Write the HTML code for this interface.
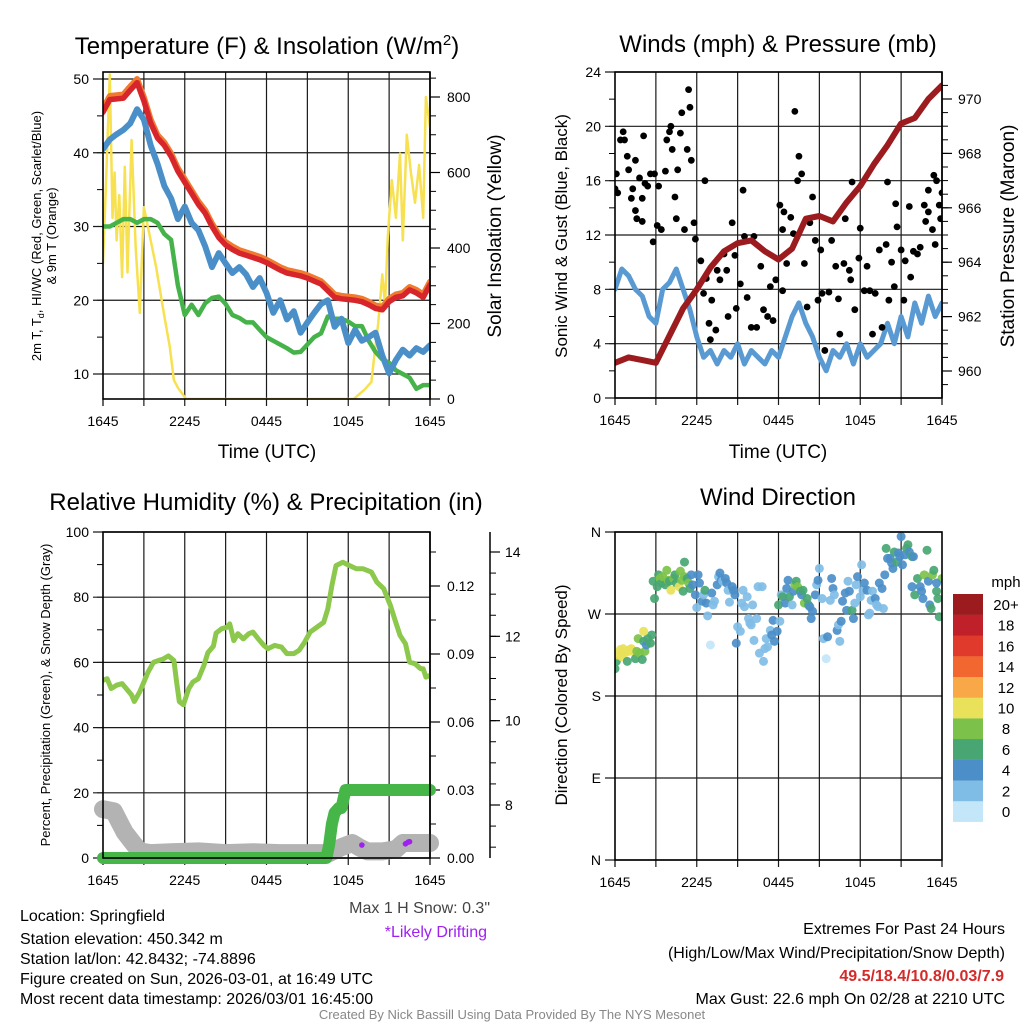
<!DOCTYPE html>
<html><head><meta charset="utf-8"><title>Station Meteogram</title>
<style>
html,body{margin:0;padding:0;background:#fff;}
svg{display:block;font-family:"Liberation Sans",Arial,sans-serif;}
</style></head>
<body>
<svg id="chart" xmlns="http://www.w3.org/2000/svg" width="1024" height="1024" viewBox="0 0 1024 1024">
<rect x="0" y="0" width="1024" height="1024" fill="#fff"/>
<text x="267" y="54" font-size="24" text-anchor="middle">Temperature (F) &amp; Insolation (W/m<tspan dy="-9" font-size="15">2</tspan><tspan dy="9">)</tspan></text>
<text x="778" y="52" font-size="24" text-anchor="middle">Winds (mph) &amp; Pressure (mb)</text>
<text x="266" y="510" font-size="24" text-anchor="middle">Relative Humidity (%) &amp; Precipitation (in)</text>
<text x="778" y="505" font-size="24" text-anchor="middle">Wind Direction</text>
<text x="267" y="458" font-size="19" text-anchor="middle">Time (UTC)</text>
<text x="778" y="458" font-size="19" text-anchor="middle">Time (UTC)</text>
<text transform="translate(41,236) rotate(-90)" font-size="13" text-anchor="middle">2m T, T<tspan dy="3" font-size="9">d</tspan><tspan dy="-3">, HI/WC (Red, Green, Scarlet/Blue)</tspan></text>
<text transform="translate(56,236) rotate(-90)" font-size="13" text-anchor="middle">&amp; 9m T (Orange)</text>
<text transform="translate(501,236) rotate(-90)" font-size="19" text-anchor="middle">Solar Insolation (Yellow)</text>
<text transform="translate(567,236) rotate(-90)" font-size="17" text-anchor="middle">Sonic Wind &amp; Gust (Blue, Black)</text>
<text transform="translate(1014,236) rotate(-90)" font-size="19" text-anchor="middle">Station Pressure (Maroon)</text>
<text transform="translate(50,695) rotate(-90)" font-size="13" text-anchor="middle">Percent, Precipitation (Green), &amp; Snow Depth (Gray)</text>
<text transform="translate(567,695) rotate(-90)" font-size="17" text-anchor="middle">Direction (Colored By Speed)</text>
<text x="1006" y="587" font-size="15" text-anchor="middle">mph</text>
<text x="490" y="913" font-size="16" fill="#444" text-anchor="end">Max 1 H Snow: 0.3"</text>
<text x="487" y="937" font-size="16" fill="#a020f0" text-anchor="end">*Likely Drifting</text>
<g font-size="16">
<text x="20" y="921">Location: Springfield</text>
<text x="20" y="944">Station elevation: 450.342 m</text>
<text x="20" y="964">Station lat/lon: 42.8432; -74.8896</text>
<text x="20" y="984">Figure created on Sun, 2026-03-01, at 16:49 UTC</text>
<text x="20" y="1004">Most recent data timestamp: 2026/03/01 16:45:00</text>
</g>
<g font-size="16" text-anchor="end">
<text x="1005" y="934">Extremes For Past 24 Hours</text>
<text x="1005" y="958">(High/Low/Max Wind/Precipitation/Snow Depth)</text>
<text x="1004" y="981" fill="#d42a2a" font-weight="bold">49.5/18.4/10.8/0.03/7.9</text>
<text x="1005" y="1004">Max Gust: 22.6 mph On 02/28 at 2210 UTC</text>
</g>
<text x="512" y="1019" font-size="13" fill="#888" text-anchor="middle">Created By Nick Bassill Using Data Provided By The NYS Mesonet</text>
</svg>
<script>
// ---------- shared axis labels ----------
const timeTickHours = [0, 6, 12, 18, 24];
const timeTickLabels = ['1645', '2245', '0445', '1045', '1645'];
const tempTicks = [10, 20, 30, 40, 50];
const solarTicks = [0, 200, 400, 600, 800];
const windTicks = [0, 4, 8, 12, 16, 20, 24];
const pressTicks = [960, 962, 964, 966, 968, 970];
const rhTicks = [0, 20, 40, 60, 80, 100];
const precipTicks = [0, 0.03, 0.06, 0.09, 0.12];
const precipTickLabels = ['0.00', '0.03', '0.06', '0.09', '0.12'];
const snowTicks = [8, 10, 12, 14];
const dirTicks = [0, 90, 180, 270, 360];
const dirTickLabels = ['N', 'E', 'S', 'W', 'N'];
const speedBinLabels = ['0', '2', '4', '6', '8', '10', '12', '14', '16', '18', '20+'];
const speedBinColors = ['#c3e6f8', '#80bde6', '#4b8ec8', '#48a672', '#7cc24a', '#e8e159', '#f9a847', '#f26630', '#e03a2c', '#c0202a', '#9b1b1e'];

// ---------- panel 1 data (half-hour steps) ----------
const tempHours = [0,0.5,1,1.5,2,2.5,3,3.5,4,4.5,5,5.5,6,6.5,7,7.5,8,8.5,9,9.5,10,10.5,11,11.5,12,12.5,13,13.5,14,14.5,15,15.5,16,16.5,17,17.5,18,18.5,19,19.5,20,20.5,21,21.5,22,22.5,23,23.5,24];
const tempRed = [45.5,47.2,47.3,47.4,48.5,49.5,47,44,42,41,39.5,37.5,36,34.5,33,31.8,30,28.5,27.5,26.9,26.4,26.1,25.8,25.5,25.1,24.6,24.1,23.7,23.5,23.3,23,22.6,22.2,21.3,20.4,20.2,20.1,20,19.8,19.4,18.9,18.7,19.8,20.4,20.6,21.4,21,20.4,22.1];
const tempOrange = [46,47.7,47.8,47.9,49,50,47.5,44.5,42.4,41.4,39.9,37.9,36.4,34.9,33.4,32.2,30.4,28.9,27.9,27.3,26.8,26.5,26.2,25.9,25.5,25,24.5,24.1,23.9,23.7,23.4,23,22.6,21.7,20.8,20.6,20.5,20.4,20.2,19.8,19.3,19.1,20.2,20.8,21,21.8,21.4,20.8,22.5];
const tempBlue = [40.5,41.8,42.5,43.1,44,45.9,44.5,41,38.5,35.5,33.8,31,32.7,30.5,29.5,27.3,24.5,26.4,25,23.7,24.5,23.5,21.8,23,21,18.3,20,17.4,18.5,15.6,17,18.3,19.5,20,16.4,17.5,14.2,16,14.5,15,15.6,12.5,10.1,11.9,13.3,12.5,13.5,13,13.9];
const tempGreen = [30,30,30.5,31,31,30.5,31,31,30.5,29,28.2,22,18,19.4,18,19.6,20.3,20.5,19.5,18,17.6,17,17,16,15,14.5,14,13.5,12.9,13,14,15,15.5,17.8,17.5,17.5,17.1,16.5,16.5,14.5,13,12,11.5,10.5,10,9.5,8,8.5,8.5];
const solarHours = [0,0.25,0.5,0.7,0.85,1.0,1.2,1.4,1.6,1.8,2.1,2.4,2.7,3.0,3.3,3.9,4.5,4.9,5.2,5.5,6.1,18.4,19.2,19.7,19.9,20.2,20.5,20.7,20.9,21.2,21.5,21.8,22.0,22.3,22.6,22.9,23.2,23.5,23.7,24];
const solarWatts = [360,600,860,480,600,420,540,323,615,335,686,400,228,508,455,350,220,138,50,30,0,0,25,45,110,200,330,250,430,580,480,650,420,700,600,520,620,480,800,720];

// ---------- panel 2 data ----------
const pressHours = [0,1,2,3,4,5,6,7,8,9,10,11,12,13,14,15,16,17,18,19,20,21,22,23,24];
const pressMb = [960.3,960.5,960.4,960.3,961.3,962.3,963.0,963.8,964.4,964.7,964.8,964.4,964.1,964.5,965.6,965.7,965.5,966.2,966.8,967.6,968.3,969.1,969.3,970.0,970.5];
const windHours = tempHours;
const windMph = [8,9.5,9,8,7.5,6,5.5,8,8.5,9.5,8,6.5,4.5,3,3.5,2.5,3.5,3,4,2.5,3.5,3,2.5,3.5,3,4.5,6,7,5.5,4.5,3,2,3.5,3,4,2.5,4,3,3.5,4,5.5,4,6,4.5,7,5.5,7.5,6,7];
const gustHours = [0,0.1,0.2,0.4,0.6,0.7,0.9,1.0,1.2,1.3,1.5,1.5,1.6,1.8,2.0,2.0,2.1,2.2,2.4,2.6,2.8,2.9,3.1,3.2,3.4,3.7,3.8,4.0,4.1,4.2,4.4,4.5,4.6,4.8,4.9,5.1,5.3,5.4,5.5,5.6,5.8,5.9,6.3,6.5,6.6,6.7,6.9,7.0,7.1,7.4,7.5,7.7,8.0,8.2,8.3,8.6,8.8,8.9,9.2,9.4,9.5,9.7,10.0,10.2,10.4,10.7,10.9,11.2,11.4,11.6,11.8,12.1,12.3,12.3,12.4,12.6,12.9,13.1,13.2,13.4,13.5,13.7,13.9,14.1,14.3,14.5,14.7,14.9,15.1,15.2,15.4,15.7,15.9,16.2,16.4,16.5,16.8,16.9,17.2,17.3,17.4,17.6,17.9,18.0,18.3,18.5,18.7,18.9,19.1,19.4,19.6,19.9,20.0,20.1,20.3,20.5,20.6,20.7,21.0,21.2,21.3,21.6,21.7,21.9,22.2,22.4,22.7,22.8,23.0,23.0,23.3,23.4,23.5,23.6,23.8,23.9,24.0];
const gustMph = [15.4,16.5,15.1,19.0,19.6,19.0,17.8,16.8,14.7,15.4,17.5,13.8,13.2,16.2,14.7,13.0,19.3,15.8,15.6,16.5,11.5,16.5,12.7,15.6,12.4,16.7,19.0,19.6,20.0,18.3,14.8,13.2,16.8,19.5,21.0,12.4,18.3,22.7,21.4,17.5,12.9,11.7,10.1,7.7,16.0,8.8,5.5,4.3,7.2,5.0,9.4,8.7,10.6,9.4,6.0,12.9,10.5,6.6,8.4,15.3,11.9,7.4,5.2,11.9,5.2,9.7,6.5,6.0,8.2,5.7,8.7,14.2,7.9,12.4,13.7,9.9,13.3,12.1,21.1,16.0,17.8,16.5,9.9,6.7,12.9,14.8,11.6,7.2,10.9,7.7,3.5,7.8,11.6,9.7,7.3,4.7,9.9,13.2,9.4,8.7,15.9,6.5,10.3,12.5,7.9,9.7,7.9,4.7,7.7,10.9,5.2,11.3,15.9,7.2,10.0,8.2,14.3,12.6,10.9,7.2,10.1,14.1,8.9,10.8,10.6,11.1,14.2,13.0,13.7,15.3,12.4,16.4,11.3,16.0,14.2,13.2,15.1];

// ---------- panel 3 data ----------
const rhHours = [0,0.3,0.6,1.0,1.4,1.7,2.1,2.3,2.7,3.0,3.3,3.7,4.1,4.4,4.8,5.2,5.4,5.6,5.9,6.3,6.6,7.0,7.4,7.7,8.1,8.3,8.7,9.1,9.3,9.6,9.9,10.3,10.7,11.0,11.4,11.8,12.1,12.6,13.1,13.5,14.0,14.4,14.8,15.2,15.7,16.2,16.5,16.8,17.1,17.6,18.1,18.6,19.1,19.7,20.1,20.6,21.1,21.4,21.8,22.2,22.5,22.9,23.3,23.5,23.7,24];
const rhPct = [54.5,55,52,53,53.5,52,50,48,51,54,57,60,60.6,61,62,60.6,54,48,47,52,54,55,59,63,65,69,70.3,70.8,71.8,66.7,68.8,67.2,68.8,69.3,67.2,65.2,64.2,65.2,64.7,62.7,62.7,63.7,66.2,69.3,70.8,72.3,76.4,83.6,89.7,90.7,89.7,88.7,88.7,87.7,84.6,82.6,77.4,73.4,68.3,65.7,60.1,59.6,58.1,58,55.5,56];
const precipHours = [0,16.4,16.6,16.8,17.0,17.3,17.5,17.8,24];
const precipIn = [0,0,0.006,0.015,0.02,0.022,0.022,0.03,0.03];
const snowHours = [0,0.8,1.2,1.6,2.2,2.7,3.5,5,7,9,11,13,15,16.6,17.5,18.3,18.8,19.4,20.5,21.5,22.0,24];
const snowIn = [7.9,7.85,7.6,7.35,7.1,6.9,6.86,6.88,6.9,6.86,6.88,6.86,6.86,6.86,7.0,7.1,7.0,6.9,6.9,6.95,7.1,7.1];
const driftHours = [19.0,22.2,22.4,22.5];
const driftIn = [7.05,7.08,7.12,7.13];

// ---------- panel 4 data ----------
const dirHours = [0.0,0.1,0.2,0.4,0.5,0.6,0.7,0.9,1.0,1.1,1.2,1.3,1.5,1.6,1.7,1.8,2.0,2.1,2.2,2.3,2.4,2.6,2.7,2.1,
2.8,2.9,3.1,3.2,3.3,3.4,3.5,3.7,3.8,3.9,4.0,4.1,4.3,4.4,4.5,4.7,4.8,4.9,5.0,5.1,5.1,5.3,5.4,5.5,5.6,5.7,5.9,6.0,6.1,6.2,6.4,6.5,6.6,6.7,6.8,7.0,7.1,7.2,7.3,
7.5,7.6,7.7,7.8,7.9,8.1,8.2,8.3,8.4,8.6,8.7,8.8,8.9,9.0,9.2,9.3,9.4,9.5,9.7,9.8,9.9,10.0,10.1,10.2,10.4,10.5,10.6,10.8,10.9,11.0,11.1,11.2,11.4,11.5,11.6,11.7,11.9,12.1,
12.0,12.2,12.3,12.5,12.6,12.7,12.8,13.0,13.1,13.2,13.3,13.4,13.6,13.7,13.8,13.9,14.1,14.2,14.3,14.4,14.5,14.7,14.8,14.9,15.0,15.2,15.3,15.5,15.6,15.8,15.9,16.0,16.1,16.3,16.4,16.5,16.6,16.7,16.9,17.0,17.1,17.2,17.4,17.5,17.6,17.7,17.8,18.0,18.1,18.2,18.3,18.5,18.6,18.7,18.8,18.9,19.1,19.2,19.3,19.4,19.6,19.7,19.8,
19.9,20.0,20.2,20.3,20.4,20.5,20.7,20.8,20.9,21.0,21.1,21.3,21.4,21.5,21.6,21.8,21.9,
21.8,22.0,22.2,22.4,22.5,22.6,22.7,22.9,23.0,23.1,23.2,23.3,23.4,23.6,23.7,23.8,24.0,23.6];
const dirDeg = [210,218,225,231,223,232,227,218,229,231,232,229,221,229,243,227,220,240,229,236,243,238,247,251,
306,287,300,313,309,304,311,302,318,307,306,296,309,313,304,300,317,307,295,327,311,309,304,298,313,302,291,277,313,304,284,291,296,282,268,236,293,280,284,
302,311,315,307,306,309,304,296,283,300,296,291,238,256,251,282,296,278,289,265,260,258,280,241,265,300,227,300,218,232,243,234,252,247,263,240,251,262,
280,291,289,282,298,307,289,280,295,302,306,300,295,291,296,282,287,280,278,265,273,291,302,307,320,287,243,221,245,285,309,298,291,252,258,240,262,284,293,274,306,295,274,265,282,302,311,289,324,296,304,296,269,271,285,295,287,280,278,304,298,276,313,
342,331,331,326,320,338,327,337,333,355,324,335,342,346,338,333,333,
300,291,309,300,295,287,313,340,306,280,276,313,318,295,287,267,309,304];
const dirMph = [7,7,10,10,11,10,10,7,10,11,10,10,7,9,8,8,7,7,8,5,6,6,7,11,
6,6,7,6,8,7,8,7,8,8,7,11,8,6,7,11,8,8,6,6,8,7,8,7,4,4,4,3,4,4,4,3,6,4,3,0.5,4,3,2,
4,3,4,4,3,4,4,3,2,4,4,4,4,3,2,3,2,3,2,2,2,2,2,2,2,2,2,2,2,2,2,2,2,4,4,4,4,2,
6,3,6,4,4,4,6,3,4,8,6,8,6,5,6,8,6,6,4,4,4,4,3,4,2,3,3,0.5,4,2,4,4,3,4,3,2,4,4,4,4,2,4,6,4,3,2,4,3,2,3,4,4,2,2,2,2,4,3,3,4,4,3,4,
6,4,4,4,4,6,6,4,4,4,4,4,6,6,4,6,4,
4,6,6,4,4,4,8,6,4,4,6,8,6,6,6,6,8,4];

// ---------- drawing helpers ----------
const NS = 'http://www.w3.org/2000/svg';
const svg = document.getElementById('chart');
function mk(tag, attrs, parent) {
  const e = document.createElementNS(NS, tag);
  for (const k in attrs) e.setAttribute(k, attrs[k]);
  (parent || svg).appendChild(e);
  return e;
}
function lin(d0, d1, r0, r1) { return v => r0 + (v - d0) / (d1 - d0) * (r1 - r0); }
function pathD(xs, ys, fx, fy) {
  let d = '';
  for (let i = 0; i < xs.length; i++) d += (i ? 'L' : 'M') + fx(xs[i]).toFixed(1) + ',' + fy(ys[i]).toFixed(1);
  return d;
}

const P1 = {x0: 103, x1: 430, y0: 72, y1: 399};
const P2 = {x0: 615, x1: 942, y0: 72, y1: 398};
const P3 = {x0: 103, x1: 430, y0: 532, y1: 858};
const P4 = {x0: 615, x1: 942, y0: 532, y1: 860};

function timeAxis(P, name) {
  const fx = lin(0, 24, P.x0, P.x1);
  const g = mk('g', {});
  
  
  for (let h = 3; h < 24; h += 3) {
    const ln = mk('line', {x1: fx(h), x2: fx(h), y1: P.y0, y2: P.y1 + 7, stroke: '#1a1a1a', 'stroke-width': 1.2}, g);
    
    
  }
  for (const h of [0, 24]) mk('line', {x1: fx(h), x2: fx(h), y1: P.y1, y2: P.y1 + 7, stroke: '#000', 'stroke-width': 1.2}, g);
  timeTickHours.forEach((h, i) => {
    const t = mk('text', {x: fx(h), y: P.y1 + 27, 'font-size': 14, 'text-anchor': 'middle'}, g);
    t.textContent = timeTickLabels[i];
    
    
  });
  return fx;
}
function leftAxis(P, fy, ticks, labels, minorStep, name, grid) {
  const g = mk('g', {});
  
  
  const lo = ticks[0], hi = ticks[ticks.length - 1];
  for (let v = lo; v <= hi + 1e-9; v += minorStep) {
    const y = fy(v);
    if (y < P.y0 - 1 || y > P.y1 + 1) continue;
    mk('line', {x1: P.x0 - 6, x2: P.x0, y1: y, y2: y, stroke: '#000', 'stroke-width': 1}, g);
  }
  ticks.forEach((v, i) => {
    const y = fy(v);
    if (grid) {
      const ln = mk('line', {x1: P.x0 - 10, x2: P.x1, y1: y, y2: y, stroke: '#1a1a1a', 'stroke-width': 1.2}, g);
      
      
    }
    const t = mk('text', {x: P.x0 - 14, y: y + 5, 'font-size': 14, 'text-anchor': 'end'}, g);
    t.textContent = labels ? labels[i] : String(v);
    
    
  });
}
function rightAxis(xAxis, y0, y1, fy, ticks, labels, minorStep, name, labelX) {
  const g = mk('g', {});
  
  
  mk('line', {x1: xAxis, x2: xAxis, y1: y0, y2: y1, stroke: '#000', 'stroke-width': 1.5}, g);
  const lo = ticks[0], hi = ticks[ticks.length - 1];
  for (let v = lo - 4 * minorStep; v <= hi + 4 * minorStep + 1e-9; v += minorStep) {
    const y = fy(v);
    if (y < y0 || y > y1) continue;
    mk('line', {x1: xAxis, x2: xAxis + 6, y1: y, y2: y, stroke: '#000', 'stroke-width': 1}, g);
  }
  ticks.forEach((v, i) => {
    const y = fy(v);
    mk('line', {x1: xAxis, x2: xAxis + 10, y1: y, y2: y, stroke: '#000', 'stroke-width': 1.2}, g);
    const t = mk('text', {x: labelX, y: y + 5, 'font-size': 14, 'text-anchor': 'start'}, g);
    t.textContent = labels ? labels[i] : String(v);
    
    
  });
}
function frame(P, name) {
  const r = mk('rect', {x: P.x0, y: P.y0, width: P.x1 - P.x0, height: P.y1 - P.y0, fill: 'none', stroke: '#000', 'stroke-width': 1.6});
  
  
}
function clip(P, id) {
  const defs = mk('defs', {});
  const cp = mk('clipPath', {id: id}, defs);
  mk('rect', {x: P.x0, y: P.y0, width: P.x1 - P.x0, height: P.y1 - P.y0}, cp);
}
function line(xs, ys, fx, fy, color, w, clipId) {
  return mk('path', {d: pathD(xs, ys, fx, fy), fill: 'none', stroke: color, 'stroke-width': w, 'stroke-linejoin': 'round', 'stroke-linecap': 'round', 'clip-path': 'url(#' + clipId + ')'});
}

// ---------- panel 1 ----------
clip(P1, 'c1');
const fx1 = timeAxis(P1, 'temperature');
const fyT = lin(10, 50, 374, 79);
const fyS = lin(0, 800, 399, 97);
leftAxis(P1, fyT, tempTicks, null, 5, 'temperature-y-axis', true);
rightAxis(P1.x1, P1.y0, P1.y1, fyS, solarTicks, null, 50, 'solar-y-axis', 447);
const sol = line(solarHours, solarWatts, fx1, fyS, '#f7e150', 2.5, 'c1');


const grn = line(tempHours, tempGreen, fx1, fyT, '#45b349', 4.5, 'c1');


const blu = line(tempHours, tempBlue, fx1, fyT, '#4a8fc8', 6, 'c1');


const org = line(tempHours, tempOrange, fx1, fyT, '#f07a30', 6, 'c1');


const red = line(tempHours, tempRed, fx1, fyT, '#d7262b', 5.5, 'c1');


frame(P1, 'temperature-plot-frame');

// ---------- panel 2 ----------
clip(P2, 'c2');
const fx2 = timeAxis(P2, 'winds');
const fyW = lin(0, 24, 398, 72);
const fyP = lin(960, 970, 371, 99);
leftAxis(P2, fyW, windTicks, null, 2, 'wind-y-axis', true);
rightAxis(P2.x1, P2.y0, P2.y1, fyP, pressTicks, null, 0.5, 'pressure-y-axis', 958);
const wl = line(windHours, windMph, fx2, fyW, '#5a9ad3', 5, 'c2');


const gg = mk('g', {'clip-path': 'url(#c2)'});


gustHours.forEach((h, i) => {
  const c = mk('circle', {cx: fx2(h), cy: fyW(gustMph[i]), r: 3.4, fill: '#000'}, gg);
  
  
});
const pl = line(pressHours, pressMb, fx2, fyP, '#9b1b1e', 6, 'c2');


frame(P2, 'winds-plot-frame');

// ---------- panel 3 ----------
clip(P3, 'c3');
const fx3 = timeAxis(P3, 'humidity');
const fyR = lin(0, 100, 858, 532);
const fyPr = lin(0, 0.03, 858, 790);
const fySn = lin(8, 14, 805, 552);
leftAxis(P3, fyR, rhTicks, null, 10, 'humidity-y-axis', true);
rightAxis(P3.x1, P3.y0, P3.y1, fyPr, precipTicks, precipTickLabels, 0.015, 'precipitation-y-axis', 447);
rightAxis(490, P3.y0, P3.y1, fySn, snowTicks, null, 0.5, 'snow-depth-y-axis', 505);
const sn = line(snowHours, snowIn, fx3, fySn, '#b3b3b3', 18, 'none');
sn.removeAttribute('clip-path');


driftHours.forEach((h, i) => {
  const c = mk('circle', {cx: fx3(h), cy: fySn(driftIn[i]), r: 2.8, fill: '#a020f0'});
  
  
});
const pr = line(precipHours, precipIn, fx3, fyPr, '#46b649', 12, 'none');
pr.removeAttribute('clip-path');


const rh = line(rhHours, rhPct, fx3, fyR, '#8cc84b', 5, 'c3');


frame(P3, 'humidity-plot-frame');

// ---------- panel 4 ----------
clip(P4, 'c4');
const fx4 = timeAxis(P4, 'direction');
const fyD = lin(0, 360, 860, 532);
leftAxis(P4, fyD, dirTicks, dirTickLabels, 90, 'direction-y-axis', true);
const dg = mk('g', {'clip-path': 'url(#c4)'});


dirHours.forEach((h, i) => {
  const bin = Math.max(0, Math.min(10, Math.floor(dirMph[i] / 2)));
  const c = mk('circle', {cx: fx4(h), cy: fyD(dirDeg[i]), r: 4.5, fill: speedBinColors[bin], 'fill-opacity': 0.92}, dg);
  
  
});
frame(P4, 'direction-plot-frame');

// colorbar
const cb = mk('g', {});


speedBinLabels.forEach((lab, i) => {
  const k = speedBinLabels.length - 1 - i;
  const y = 594 + k * 20.7;
  const r = mk('rect', {x: 953, y: y, width: 30, height: 20.9, fill: speedBinColors[i]}, cb);
  
  
  const t = mk('text', {x: 1006, y: y + 16, 'font-size': 15, 'text-anchor': 'middle'}, cb);
  t.textContent = lab;
  
  
});
</script>
</body></html>
